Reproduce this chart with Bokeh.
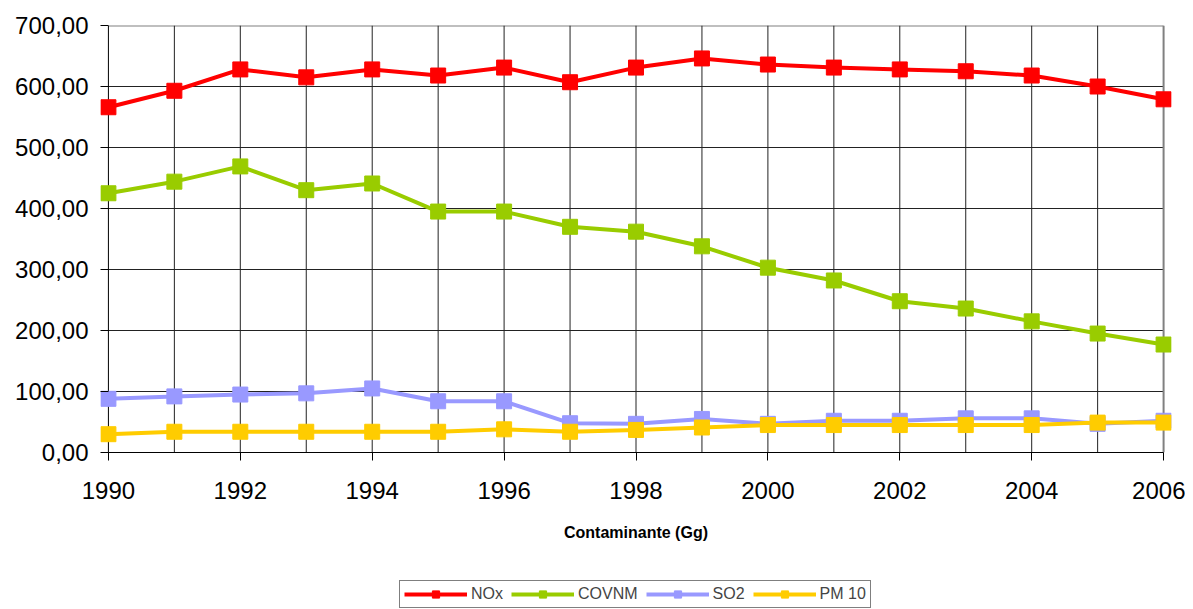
from bokeh.plotting import figure
from bokeh.layouts import column
from bokeh.models import Range1d, SingleIntervalTicker, CustomJSTickFormatter, Legend, LegendItem
from bokeh.embed import file_html
from bokeh.resources import INLINE

years = list(range(1990, 2007))
nox = [566, 593, 628, 615, 628, 618, 631, 607, 631, 646, 636, 631, 628, 625, 618, 600, 579]
covnm = [425, 444, 469, 430, 441, 395, 395, 370, 362, 338, 303, 282, 248, 236, 215, 195, 177]
so2 = [88, 92, 95, 97, 105, 84, 84, 48, 47, 55, 47, 52, 52, 56, 56, 47, 52]
pm10 = [30, 34, 34, 34, 34, 34, 38, 34, 37, 41, 45, 45, 45, 45, 45, 49, 49]

series_names = ["NOx", "COVNM", "SO2", "PM 10"]
series_values = [nox, covnm, so2, pm10]
colors = ["#FF0000", "#99CC00", "#9999FF", "#FFCC00"]
y_ticks = [0, 100, 200, 300, 400, 500, 600, 700]

FONT = "Liberation Sans"
x0, x1 = years[0], years[-1]
y0, y1 = y_ticks[0], y_ticks[-1]
pad = 0.12

p = figure(width=1185, height=573, output_backend="svg", toolbar_location=None,
           x_range=Range1d(x0 - pad, x1 + pad), y_range=Range1d(y0, y1),
           min_border_left=100, min_border_right=14, min_border_top=25, min_border_bottom=121)
p.background_fill_color = "white"
p.border_fill_color = "white"
p.outline_line_color = None
p.grid.visible = False

p.xaxis.ticker = SingleIntervalTicker(interval=2)
p.yaxis.ticker = SingleIntervalTicker(interval=100)
p.yaxis.formatter = CustomJSTickFormatter(code="return tick.toFixed(2).replace('.', ',');")
p.xaxis.bounds = (x0, x1)

for ax in (p.xaxis, p.yaxis):
    ax.axis_line_color = "black"
    ax.axis_line_width = 1
    ax.major_tick_line_color = "black"
    ax.minor_tick_line_color = None
    ax.major_label_text_font = FONT
    ax.major_label_text_font_size = "24px"
    ax.major_label_text_color = "black"

p.xaxis.major_tick_in = 0
p.xaxis.major_tick_out = 8
p.yaxis.axis_line_color = None
p.yaxis.major_tick_in = 8
p.yaxis.major_tick_out = 0
p.yaxis.major_label_standoff = 8

p.xaxis.major_label_standoff = 21
p.xaxis.axis_label = "Contaminante (Gg)"
p.xaxis.axis_label_text_font = FONT
p.xaxis.axis_label_text_font_style = "bold"
p.xaxis.axis_label_text_font_size = "16px"
p.xaxis.axis_label_text_color = "black"
p.xaxis.axis_label_standoff = 22

# grid lines (horizontal between first and last year, vertical at each year)
h_cols = ["#808080" if t == y1 else "#222222" for t in y_ticks]
h_w = [2 if t == y1 else 1 for t in y_ticks]
p.segment(x0=[x0] * len(y_ticks), x1=[x1] * len(y_ticks), y0=y_ticks, y1=y_ticks,
          line_color=h_cols, line_width=h_w)
v_cols = ["#808080" if yr == x1 else ("black" if yr == x0 else "#222222") for yr in years]
v_w = [2 if yr == x1 else 1 for yr in years]
p.segment(x0=years, x1=years, y0=[y0] * len(years), y1=[y1] * len(years),
          line_color=v_cols, line_width=v_w)

for name, vals, col in zip(series_names, series_values, colors):
    p.line(years, vals, line_color=col, line_width=4)
    p.scatter(years, vals, marker="square", size=15, fill_color=col, line_color=col)

# legend strip below the chart
lg = figure(width=1185, height=36, output_backend="svg", toolbar_location=None,
            x_range=Range1d(-20, -10), y_range=Range1d(0, 1),
            x_axis_location=None, y_axis_location=None,
            min_border=0, min_border_left=0, min_border_right=0, min_border_top=0, min_border_bottom=0)
lg.grid.visible = False
lg.outline_line_color = None
lg.background_fill_color = "white"
lg.border_fill_color = "white"

items = []
for name, vals, col in zip(series_names, series_values, colors):
    r1 = lg.line(years, vals, line_color=col, line_width=4)
    r2 = lg.scatter(years, vals, marker="square", size=14, fill_color=col, line_color=col)
    items.append(LegendItem(label=name, renderers=[r1, r2]))

legend = Legend(items=items, orientation="horizontal", location=(299, 1),
                glyph_width=63, glyph_height=18, label_standoff=4, spacing=8, padding=4,
                label_text_font=FONT, label_text_font_size="16px",
                border_line_color="black", border_line_width=1, background_fill_alpha=1,
                margin=0)
lg.add_layout(legend, "center")

layout = column(p, lg, spacing=0)
open("out.html", "w").write(file_html(layout, INLINE))
